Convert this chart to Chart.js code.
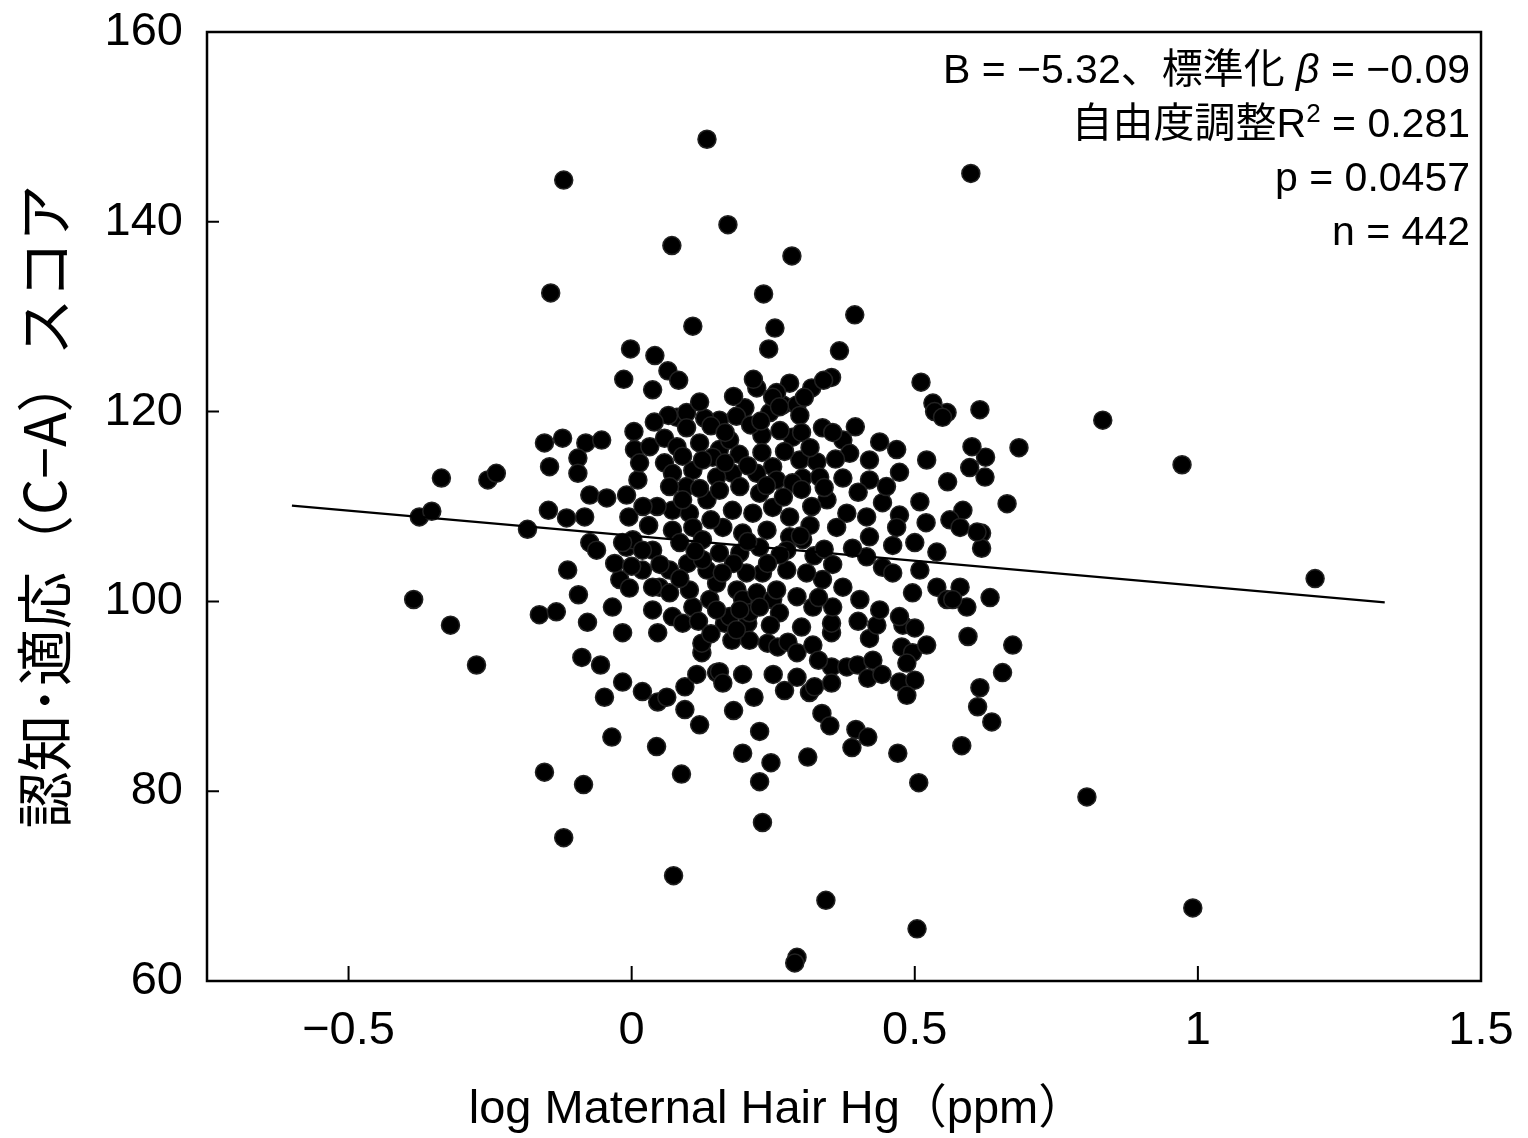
<!DOCTYPE html>
<html><head><meta charset="utf-8">
<script src="https://cdn.jsdelivr.net/npm/chart.js@4/dist/chart.umd.min.js"></script>
<style>html,body{margin:0;padding:0;background:#fff;}canvas{display:block}</style>
</head><body>
<canvas id="c" width="1528" height="1138"></canvas>
<script>
// log maternal hair Hg (x) and C-A score (y)
const hgX = [
 0.133,-0.120,0.599,0.170,0.071,0.283,-0.143,0.233,0.394,0.108,0.253,-0.002,0.041,0.242,0.367,0.064,0.083,-0.014,0.037,0.221,
 0.279,0.318,0.353,0.339,0.511,0.532,0.557,0.615,0.832,0.684,0.972,1.207,0.804,0.991,0.504,0.343,0.292,0.288,0.074,-0.120,
 0.231,-0.154,-0.085,0.088,0.507,0.226,0.246,0.196,0.311,0.389,0.470,0.583,-0.035,0.044,0.636,0.611,0.615,0.655,0.673,0.594,
 0.633,0.663,0.625,0.624,0.618,0.618,-0.385,-0.375,-0.353,-0.336,-0.254,-0.239,-0.320,-0.274,-0.184,-0.154,-0.122,-0.081,-0.053,-0.145,
 -0.095,-0.095,-0.147,-0.115,-0.083,-0.074,-0.044,-0.009,-0.005,0.004,0.005,0.011,0.014,0.032,0.058,0.058,0.080,0.097,-0.074,-0.062,
 -0.009,0.002,0.037,-0.113,-0.094,-0.034,-0.021,-0.004,0.019,0.049,0.067,0.099,-0.163,-0.133,-0.078,0.037,0.072,0.108,-0.016,0.046,
 0.090,-0.088,-0.055,-0.016,-0.048,0.019,0.046,0.062,0.094,0.115,0.124,0.124,0.094,0.150,0.164,0.205,0.177,0.208,0.240,0.258,
 0.276,0.292,0.320,0.353,0.353,0.420,0.433,0.479,0.500,0.477,0.496,0.521,0.155,0.161,0.196,0.216,0.292,0.314,0.323,0.353,
 0.353,0.380,0.399,0.426,0.417,0.442,0.473,0.486,0.500,0.486,0.336,0.350,0.396,0.417,0.226,0.200,0.267,0.292,0.244,0.155,
 0.337,0.373,0.355,0.438,0.468,0.521,0.535,0.549,0.601,0.597,0.558,0.420,0.420,0.473,0.373,0.284,0.230,0.230,0.297,0.327,
 0.302,0.332,0.585,0.562,0.580,0.610,0.539,0.509,0.461,0.443,0.509,0.473,0.468,0.415,0.380,0.345,0.362,0.420,0.415,0.443,
 0.461,0.539,0.557,0.580,0.592,0.496,0.567,0.473,0.438,0.403,0.373,0.355,0.320,0.292,0.337,0.309,0.274,0.231,0.203,0.186,
 0.196,0.221,0.249,0.261,0.208,0.173,0.138,0.150,0.133,0.102,0.256,0.129,0.097,0.080,0.120,0.155,0.173,0.143,0.249,0.221,
 0.178,0.150,0.072,0.108,0.097,0.067,0.072,0.102,0.133,0.155,0.191,0.226,0.256,0.284,0.178,0.214,0.249,0.279,0.161,0.196,
 0.239,0.279,0.072,0.108,0.125,0.085,-0.016,0.019,0.067,0.125,0.155,0.191,0.226,0.274,0.256,0.037,0.150,0.191,0.226,0.249,
 0.261,0.297,0.302,0.322,0.340,0.318,
 0.120,0.140,0.165,0.185,0.210,0.228,0.262,0.300,0.315,0.270,0.190,0.165,0.125,0.090,0.205,0.238,0.268,0.300,0.315,0.298,
 0.262,0.240,0.205,0.180,0.160,0.112,0.140,0.120,0.090,0.045,0.030,0.050,0.085,0.118,0.140,0.185,0.245,0.300,0.330,0.355,
 0.390,0.400,0.385,0.450,0.500,0.520,0.340,0.360,0.395,0.180,0.215,0.305,0.065,0.040,0.020,-0.030,0.000,0.270,0.250,0.400,
 0.330,0.180,0.120
];
const scoreY = [
 148.7,144.4,145.1,139.7,137.5,136.4,132.5,132.4,130.2,129.0,128.8,126.6,125.9,126.6,126.4,124.3,123.3,123.4,122.3,122.5,
 123.0,122.5,123.6,123.3,123.1,120.9,119.9,120.2,119.1,116.2,114.4,102.4,79.4,67.7,65.5,68.5,62.5,61.9,71.1,75.1,
 76.7,82.0,80.7,81.8,80.9,81.0,83.0,84.0,83.6,84.6,84.0,84.8,85.7,84.7,87.3,88.9,90.9,92.5,95.4,96.3,
 100.4,110.3,115.2,113.1,107.2,105.6,100.2,108.9,109.5,113.0,112.8,113.5,97.5,93.3,107.6,116.7,117.2,116.7,117.0,114.2,
 115.1,113.5,109.6,108.8,108.9,111.2,110.9,111.2,108.9,117.9,116.0,112.8,114.6,116.3,117.2,114.6,119.4,119.9,106.2,105.4,
 105.7,106.5,105.4,103.3,100.7,99.4,102.3,101.4,103.3,101.5,100.9,104.0,98.6,98.9,97.8,99.1,98.4,99.4,96.7,96.7,
 97.7,94.1,93.3,91.5,89.9,90.5,89.4,89.9,91.0,92.3,94.6,95.6,88.6,92.5,97.7,97.7,95.9,95.9,95.6,95.2,
 95.7,94.6,95.4,96.7,97.7,96.1,97.5,97.5,97.2,95.2,94.6,95.4,92.6,91.4,92.3,89.9,92.0,90.4,91.0,93.1,
 91.4,93.1,93.3,93.8,91.9,92.3,91.5,93.5,91.7,90.1,88.2,86.9,86.5,85.7,86.3,120.4,120.7,120.7,119.9,119.1,
 118.3,117.0,117.8,116.8,116.0,114.9,120.0,119.4,116.3,114.1,112.6,114.9,112.8,113.6,113.0,117.3,117.5,115.7,114.9,114.7,
 113.0,113.1,109.6,108.6,107.8,107.3,105.2,103.3,105.9,110.4,110.5,109.1,107.8,108.9,109.3,110.7,107.8,106.8,104.7,103.6,
 103.0,101.5,100.2,101.5,99.4,100.9,100.2,98.4,99.1,100.2,101.5,99.4,99.4,100.5,102.3,103.0,103.3,103.0,103.0,101.2,
 100.2,100.9,100.2,98.8,98.8,98.4,100.2,101.9,103.3,101.2,122.0,119.3,118.3,116.3,116.7,116.0,117.0,115.2,114.2,113.5,
 113.5,113.1,113.5,113.8,112.1,112.1,109.6,109.3,110.7,111.7,112.1,111.4,112.8,112.5,109.6,109.3,109.9,108.9,107.8,107.2,
 107.5,106.8,107.5,107.8,106.5,106.2,106.2,105.4,103.3,104.4,105.1,105.1,105.7,105.4,101.2,101.5,99.1,99.1,99.4,121.5,
 120.5,119.6,106.5,104.8,105.5,110.0,
 121.0,118.5,117.8,119.5,118.6,119.0,118.0,117.8,116.2,115.8,115.5,114.6,114.9,115.3,114.3,112.2,111.0,111.8,108.0,106.9,
 104.9,104.0,106.3,104.0,103.0,105.3,108.6,111.9,110.7,110.0,108.0,103.9,102.4,97.9,96.6,97.0,97.5,97.3,100.4,103.9,
 105.6,111.5,115.6,112.1,106.2,108.3,112.0,115.0,118.4,121.6,123.4,121.5,119.6,118.9,110.0,104.0,103.7,90.6,92.3,97.9,
 93.8,88.5,87.0
];
// fitted regression line end points
const fitX = [-0.6, 1.33];
const fitY = [110.1, 99.9];
// axis ticks
const xTicks = [-0.5, 0, 0.5, 1, 1.5];
const yTicks = [60, 80, 100, 120, 140, 160];
const xTitle = 'log Maternal Hair Hg（ppm）';
const yTitle = '認知･適応（C−A）スコア';
const statLines = [
  [{t:'B = −5.32、標準化 '}, {t:'β', italic:true}, {t:' = −0.09'}],
  [{t:'自由度調整R'}, {t:'2', sup:true}, {t:' = 0.281'}],
  [{t:'p = 0.0457'}],
  [{t:'n = 442'}]
];

const FAM = '"Liberation Sans","Noto Sans CJK JP",sans-serif';
const fmt = v => (v < 0 ? '−' + Math.abs(v) : String(v));

const decor = {
  id: 'decor',
  afterDraw(chart) {
    const {ctx, chartArea: a, scales: {x, y}} = chart;
    ctx.save();
    ctx.strokeStyle = '#000';
    ctx.lineWidth = 2.5;
    ctx.strokeRect(a.left, a.top, a.right - a.left, a.bottom - a.top);
    ctx.lineWidth = 2;
    ctx.beginPath();
    x.ticks.forEach(t => { const p = x.getPixelForValue(t.value); ctx.moveTo(p, a.bottom); ctx.lineTo(p, a.bottom - 15); });
    y.ticks.forEach(t => { const p = y.getPixelForValue(t.value); ctx.moveTo(a.left, p); ctx.lineTo(a.left + 12, p); });
    ctx.stroke();
    ctx.fillStyle = '#000';
    ctx.textBaseline = 'alphabetic';
    ctx.font = '47px ' + FAM;
    ctx.textAlign = 'center';
    ctx.fillText(xTitle, 777, 1123);
    ctx.textAlign = 'left';
    const right = 1470, base0 = 83, step = 54;
    statLines.forEach((segs, i) => {
      const fontOf = s => s.sup ? '26px ' + FAM : (s.italic ? 'italic 41px ' + FAM : '41px ' + FAM);
      let w = 0;
      segs.forEach(s => { ctx.font = fontOf(s); w += ctx.measureText(s.t).width; });
      let cx = right - w;
      const by = base0 + i * step;
      segs.forEach(s => {
        ctx.font = fontOf(s);
        ctx.fillText(s.t, cx, s.sup ? by - 15 : by);
        cx += ctx.measureText(s.t).width;
      });
    });
    ctx.restore();
  }
};

new Chart(document.getElementById('c'), {
  type: 'scatter',
  data: {
    datasets: [
      {
        type: 'line',
        data: fitX.map((v, i) => ({x: v, y: fitY[i]})),
        borderColor: '#000', borderWidth: 2.2, pointRadius: 0, fill: false, order: 0
      },
      {
        data: hgX.map((v, i) => ({x: v, y: scoreY[i]})),
        backgroundColor: '#000', borderColor: '#222', borderWidth: 1.5,
        pointRadius: 9, pointHoverRadius: 9, order: 1
      }
    ]
  },
  options: {
    responsive: false, devicePixelRatio: 1, animation: false,
    layout: {padding: {top: 32, right: 47, left: 0, bottom: 0}},
    plugins: {legend: {display: false}, tooltip: {enabled: false}},
    scales: {
      x: {
        type: 'linear', position: 'bottom', min: -0.75, max: 1.5,
        afterBuildTicks: s => { s.ticks = xTicks.map(v => ({value: v})); },
        afterFit: s => { s.height = 157; s.paddingLeft = 0; s.paddingRight = 0; },
        grid: {display: false, drawTicks: false},
        border: {display: false},
        ticks: {color: '#000', font: {size: 47, family: FAM}, padding: 22, callback: v => fmt(v), maxRotation: 0}
      },
      y: {
        type: 'linear', min: 60, max: 160,
        afterBuildTicks: s => { s.ticks = yTicks.map(v => ({value: v})); },
        afterFit: s => { s.width = 207; s.paddingTop = 0; s.paddingBottom = 0; },
        grid: {display: false, drawTicks: false},
        border: {display: false},
        ticks: {color: '#000', font: {size: 47, family: FAM}, padding: 24, callback: v => fmt(v)},
        title: {display: true, text: yTitle, color: '#000', font: {size: 57, family: '"Noto Sans CJK JP",sans-serif'}, padding: {top: 10, bottom: 0}}
      }
    }
  },
  plugins: [decor]
});
</script>
</body></html>
